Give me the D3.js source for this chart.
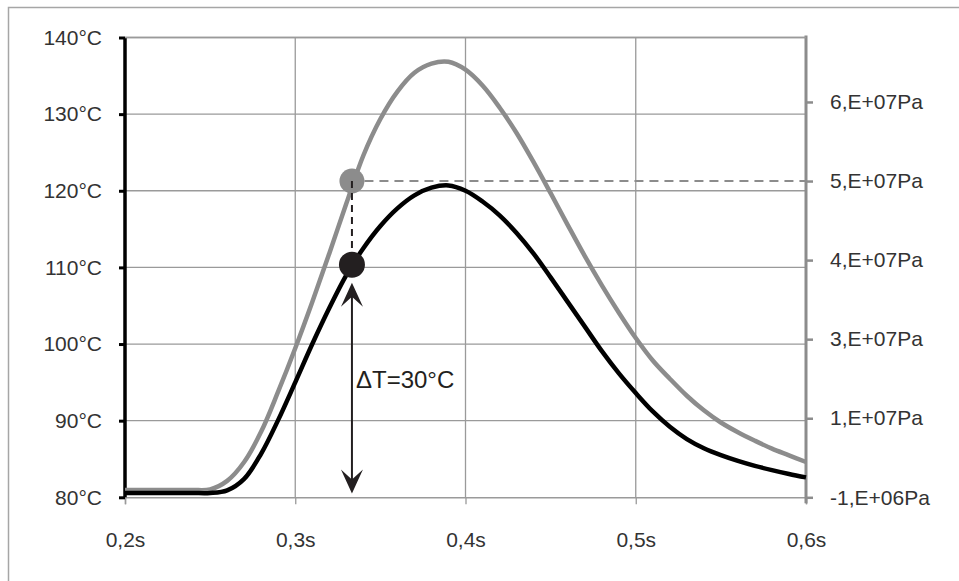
<!DOCTYPE html>
<html>
<head>
<meta charset="utf-8">
<script src="https://cdn.jsdelivr.net/npm/d3@7"></script>
<style>
  html, body { margin: 0; padding: 0; background: #fff; }
  svg { display: block; }
  text { font-family: "Liberation Sans", Arial, sans-serif; }
</style>
</head>
<body>
<svg id="chart" width="959" height="581"></svg>
<script>
// ---- data ----
const times = [0.20,0.21,0.22,0.23,0.24,0.25,0.26,0.27,0.28,0.29,0.30,0.31,0.32,0.33,0.34,0.35,0.36,0.37,0.38,0.39,0.40,
               0.41,0.42,0.43,0.44,0.45,0.46,0.47,0.48,0.49,0.50,0.51,0.52,0.53,0.54,0.55,0.56,0.57,0.58,0.59,0.60];
// temperature (°C), left axis
const temperature = [80.56,80.56,80.56,80.56,80.56,80.56,80.9,82.4,85.7,90.1,95.0,100.0,104.7,109.0,112.5,115.4,117.7,119.4,120.4,120.7,120.0,
                     118.6,116.8,114.5,111.8,108.7,105.5,102.3,99.1,96.2,93.6,91.2,89.2,87.6,86.4,85.5,84.75,84.1,83.55,83.05,82.6];
// pressure (Pa), right axis
const pressure = [0.2e6,0.2e6,0.2e6,0.2e6,0.2e6,0.3e6,1.7e6,4.8e6,9.8e6,16.4e6,23.5e6,31.1e6,39.1e6,47.3e6,55.2e6,61.2e6,65.7e6,68.8e6,70.3e6,70.6e6,69.3e6,
                  66.7e6,63.1e6,58.9e6,54.1e6,49.0e6,43.8e6,38.7e6,33.9e6,29.4e6,25.2e6,21.5e6,18.5e6,15.7e6,13.3e6,11.3e6,9.7e6,8.3e6,7.0e6,5.9e6,4.8e6];

const xTicks = [0.2,0.3,0.4,0.5,0.6];
const xTickLabels = ["0,2s","0,3s","0,4s","0,5s","0,6s"];
const leftTicks = [80,90,100,110,120,130,140];
const leftTickLabels = ["80°C","90°C","100°C","110°C","120°C","130°C","140°C"];
const rightTicks = [-1e6,1.2e7,2.5e7,3.8e7,5.1e7,6.4e7];
const rightTickLabels = ["-1,E+06Pa","1,E+07Pa","3,E+07Pa","4,E+07Pa","5,E+07Pa","6,E+07Pa"];

const markerTime = 0.3333;
const markerTemp = 110.35;
const markerPressure = 5.1e7;
const arrowBottomTemp = 80.5;
const annotation = "ΔT=30°C";
const annotationTemp = 94.3;

// ---- layout ----
const svg = d3.select("#chart");
const X0 = 125, X1 = 806, Y0 = 497.3, Y1 = 37.5;

const x = d3.scaleLinear().domain([0.2, 0.6]).range([X0, X1]);
const yL = d3.scaleLinear().domain([80, 140]).range([Y0, Y1]);
const yR = d3.scaleLinear().domain([-1e6, 7.46e7]).range([Y0, Y1]);

const gridColor = "#9a9a9a";
const greyColor = "#8c8c8c";
const textColor = "#333333";
const font = "'Liberation Sans', Arial, sans-serif";

// outer border (only top/left visible)
svg.append("rect").attr("x", 8.5).attr("y", 7.5).attr("width", 1000).attr("height", 1000)
  .attr("fill", "none").attr("stroke", "#a6a6a6").attr("stroke-width", 1.5);

// horizontal gridlines
svg.append("g").selectAll("line").data(leftTicks.filter(d => d > 80)).join("line")
  .attr("x1", X0).attr("x2", X1).attr("y1", d => yL(d)).attr("y2", d => yL(d))
  .attr("stroke", gridColor).attr("stroke-width", 1.3);

// vertical gridlines
svg.append("g").selectAll("line").data(xTicks.filter(d => d > 0.2 && d < 0.6)).join("line")
  .attr("x1", d => x(d)).attr("x2", d => x(d)).attr("y1", Y1).attr("y2", Y0)
  .attr("stroke", gridColor).attr("stroke-width", 1.3);

// bottom axis
const xAxis = d3.axisBottom(x).tickValues(xTicks).tickFormat((d, i) => xTickLabels[i]).tickSize(7).tickPadding(28);
const gx = svg.append("g").attr("transform", `translate(0,${Y0})`).call(xAxis);
gx.select(".domain").attr("stroke", gridColor).attr("stroke-width", 1.5);
gx.selectAll(".tick line").attr("stroke", gridColor).attr("stroke-width", 1.3);
gx.selectAll(".tick text").attr("fill", textColor).attr("font-size", 21).attr("font-family", font);

// right axis
const rAxis = d3.axisRight(yR).tickValues(rightTicks).tickFormat((d, i) => rightTickLabels[i]).tickSize(7).tickPadding(17);
const gr = svg.append("g").attr("transform", `translate(${X1},0)`).call(rAxis);
gr.select(".domain").remove();
gr.append("line").attr("x1", 0).attr("x2", 0).attr("y1", Y1 - 2).attr("y2", Y0 + 6)
  .attr("stroke", greyColor).attr("stroke-width", 3);
gr.selectAll(".tick line").attr("stroke", greyColor).attr("stroke-width", 2.5);
gr.selectAll(".tick text").attr("fill", textColor).attr("font-size", 21).attr("font-family", font);

// left axis
const lAxis = d3.axisLeft(yL).tickValues(leftTicks).tickFormat((d, i) => leftTickLabels[i]).tickSize(6).tickPadding(17);
const gl = svg.append("g").attr("transform", `translate(${X0},0)`).call(lAxis);
gl.select(".domain").remove();
gl.append("line").attr("x1", 0).attr("x2", 0).attr("y1", Y1).attr("y2", Y0)
  .attr("stroke", "#000").attr("stroke-width", 3.5);
gl.selectAll(".tick line").attr("stroke", "#000").attr("stroke-width", 3);
gl.selectAll(".tick text").attr("fill", textColor).attr("font-size", 21).attr("font-family", font);

// top gridline at 140
svg.append("line").attr("x1", X0).attr("x2", X1).attr("y1", yL(140)).attr("y2", yL(140))
  .attr("stroke", gridColor).attr("stroke-width", 1.3);

// curves
const curve = d3.curveCatmullRom.alpha(0.5);
const pLine = d3.line().x((d, i) => x(times[i])).y(d => yR(d)).curve(curve);
const tLine = d3.line().x((d, i) => x(times[i])).y(d => yL(d)).curve(curve);

svg.append("path").datum(pressure).attr("d", pLine)
  .attr("fill", "none").attr("stroke", greyColor).attr("stroke-width", 4.5).attr("stroke-linejoin", "round");
svg.append("path").datum(temperature).attr("d", tLine)
  .attr("fill", "none").attr("stroke", "#000").attr("stroke-width", 4.5).attr("stroke-linejoin", "round");

// annotation
const mx = x(markerTime), myP = yR(markerPressure), myT = yL(markerTemp);
const r = 12.5;

svg.append("line").attr("x1", mx + r).attr("x2", X1).attr("y1", myP).attr("y2", myP)
  .attr("stroke", greyColor).attr("stroke-width", 2).attr("stroke-dasharray", "9,6");

svg.append("circle").attr("cx", mx).attr("cy", myP).attr("r", r).attr("fill", greyColor);

svg.append("line").attr("x1", mx).attr("x2", mx).attr("y1", myP).attr("y2", myT - r)
  .attr("stroke", "#231f20").attr("stroke-width", 2).attr("stroke-dasharray", "7,5");

svg.append("circle").attr("cx", mx).attr("cy", myT).attr("r", 13).attr("fill", "#231f20");

// double-headed arrow
const topTip = myT + 13 + 5, botTip = yL(arrowBottomTemp);
svg.append("line").attr("x1", mx).attr("x2", mx).attr("y1", topTip + 10).attr("y2", botTip - 10)
  .attr("stroke", "#231f20").attr("stroke-width", 2);
const hw = 11, hl = 24, notch = 14;
svg.append("path")
  .attr("d", `M${mx},${topTip} L${mx + hw},${topTip + hl} L${mx},${topTip + notch} L${mx - hw},${topTip + hl} Z`)
  .attr("fill", "#231f20");
svg.append("path")
  .attr("d", `M${mx},${botTip} L${mx + hw},${botTip - hl} L${mx},${botTip - notch} L${mx - hw},${botTip - hl} Z`)
  .attr("fill", "#231f20");

svg.append("text").attr("x", mx + 4).attr("y", yL(annotationTemp)).attr("font-size", 24)
  .attr("fill", "#231f20").attr("font-family", font)
  .text(annotation);
</script>
</body>
</html>
